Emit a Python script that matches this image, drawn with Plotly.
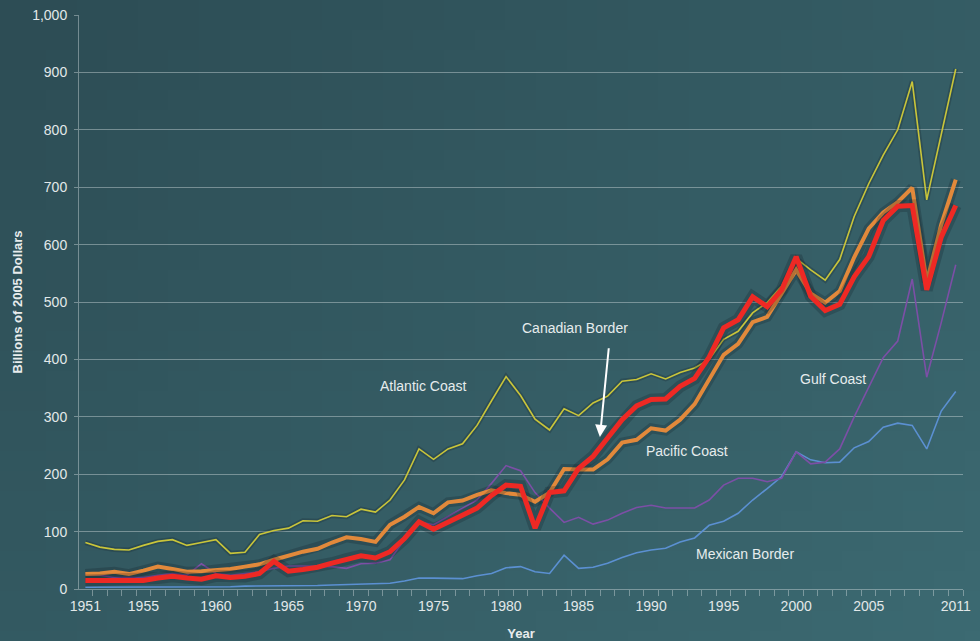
import base64, struct, zlib
import plotly.graph_objects as go

years = list(range(1951, 2012))

atlantic = [81, 73, 69, 68, 76, 83, 86, 76, 81, 86,
            62, 64, 95, 102, 106, 119, 118, 128, 126, 139,
            134, 155, 190, 244, 226, 244, 253, 285, 328, 370,
            337, 296, 277, 314, 302, 324, 336, 362, 365, 375,
            366, 377, 385, 400, 435, 449, 481, 499, 528, 576,
            556, 538, 574, 649, 706, 756, 800, 884, 678, 790, 906]

pacific = [26, 27, 30, 26, 32, 39, 35, 30, 31, 33,
           35, 39, 43, 51, 58, 65, 70, 81, 90, 87,
           82, 112, 126, 143, 132, 151, 154, 164, 172, 167,
           164, 152, 168, 209, 208, 208, 226, 255, 260, 280,
           276, 295, 322, 366, 408, 427, 465, 474, 514, 556,
           515, 499, 519, 578, 628, 656, 674, 699, 535, 635, 713]

canadian = [15, 15, 15, 15, 15, 19, 22, 19, 17, 23,
            20, 22, 27, 48, 31, 34, 38, 45, 52, 58,
            54, 65, 88, 117, 104, 117, 129, 141, 163, 181,
            179, 106, 168, 171, 210, 231, 263, 295, 319, 330,
            331, 353, 367, 404, 455, 469, 509, 492, 521, 579,
            510, 485, 496, 544, 579, 642, 667, 668, 521, 613, 668]

gulf = [26, 24, 20, 20, 20, 24, 27, 24, 44, 27,
        24, 27, 30, 36, 40, 40, 40, 39, 36, 44,
        45, 51, 86, 117, 112, 126, 141, 155, 184, 215,
        206, 168, 141, 116, 125, 113, 120, 132, 142, 146,
        141, 141, 141, 155, 181, 193, 193, 187, 193, 239,
        218, 221, 244, 300, 353, 403, 432, 540, 369, 464, 565]

mexican = [3, 3, 3, 3, 3, 4, 4, 4, 4, 4,
           4, 5, 5, 5, 5, 6, 6, 7, 8, 9,
           9, 10, 14, 19, 19, 19, 18, 23, 27, 37,
           39, 30, 27, 59, 36, 38, 45, 55, 63, 68,
           71, 82, 89, 111, 118, 132, 155, 175, 196, 239,
           225, 220, 221, 246, 257, 282, 289, 285, 244, 310, 344]

x_tick_vals = [1951, 1955, 1960, 1965, 1970, 1975, 1980, 1985, 1990, 1995, 2000, 2005, 2011]
y_tick_vals = [0, 100, 200, 300, 400, 500, 600, 700, 800, 900, 1000]
x_range = [1950.56, 2011.5]

labels = [
    ("Atlantic Coast", 1974.3, 354),
    ("Canadian Border", 1984.75, 454),
    ("Pacific Coast", 1992.5, 241),
    ("Gulf Coast", 2002.55, 366),
    ("Mexican Border", 1996.5, 61),
]


def gradient_png(w, h, c0, c1):
    rows = b""
    for j in range(h):
        row = b"\x00"
        for i in range(w):
            t = (i / (w - 1)) * 0.55 + (j / (h - 1)) * 0.45
            px = bytes(int(c0[k] + (c1[k] - c0[k]) * t) for k in range(3))
            row += px
        rows += row

    def chunk(tag, data):
        c = struct.pack(">I", len(data)) + tag + data
        return c + struct.pack(">I", zlib.crc32(tag + data) & 0xffffffff)

    png = b"\x89PNG\r\n\x1a\n"
    png += chunk(b"IHDR", struct.pack(">IIBBBBB", w, h, 8, 2, 0, 0, 0))
    png += chunk(b"IDAT", zlib.compress(rows))
    png += chunk(b"IEND", b"")
    return "data:image/png;base64," + base64.b64encode(png).decode()


bg = gradient_png(32, 32, (45, 77, 85), (60, 106, 114))

fig = go.Figure()

shadow = "rgba(12,25,30,0.22)"
series = [
    ("Mexican Border", mexican, "#5b90d2", 1.6, None),
    ("Gulf Coast", gulf, "#7c4fa6", 1.6, None),
    ("Atlantic Coast", atlantic, "#c9c53a", 1.6, 5),
    ("Pacific Coast", pacific, "#e2893b", 4, 10),
    ("Canadian Border", canadian, "#ee2924", 5, 12),
]
for name, vals, color, w, sw in series:
    if sw:
        fig.add_trace(go.Scatter(x=years, y=vals, mode="lines",
                                 line=dict(color=shadow, width=sw),
                                 hoverinfo="skip", showlegend=False))
    fig.add_trace(go.Scatter(x=years, y=vals, mode="lines", name=name,
                             line=dict(color=color, width=w), showlegend=False))

# invisible trace to carry the year-label axis
fig.add_trace(go.Scatter(x=[years[0]], y=[0], xaxis="x2", mode="markers",
                         marker=dict(opacity=0), hoverinfo="skip", showlegend=False))

font_fam = "Liberation Sans, Arial, sans-serif"
for text, xv, yv in labels:
    fig.add_annotation(x=xv, y=yv, text=text, showarrow=False,
                       font=dict(family=font_fam, size=14, color="#e6eced"))

fig.add_annotation(x=1986.47, y=265, ax=1987.09, ay=422, xref="x", yref="y",
                   axref="x", ayref="y", text="", showarrow=True,
                   arrowhead=2, arrowsize=1.2, arrowwidth=2, arrowcolor="#ffffff")

grid_c = "rgba(205,215,217,0.45)"
half_years = [y + 0.5 for y in years]
fig.update_layout(
    width=980, height=641,
    margin=dict(l=79, r=17, t=15, b=52),
    paper_bgcolor="#34595f",
    plot_bgcolor="rgba(0,0,0,0)",
    font=dict(family=font_fam, color="#dfe5e6"),
    images=[dict(source=bg, xref="paper", yref="paper",
                 x=-79 / 884, y=1 + 15 / 574, sizex=980 / 884, sizey=641 / 574,
                 sizing="stretch", layer="below", xanchor="left", yanchor="top")],
    xaxis=dict(range=x_range, tickvals=half_years, ticktext=[""] * len(half_years),
               automargin=False, ticks="outside", ticklen=6, tickcolor=grid_c,
               showgrid=False, zeroline=False, showline=True, linecolor=grid_c,
               linewidth=1,
               title=dict(text="<b>Year</b>", font=dict(size=13, color="#e8eced"),
                          standoff=32)),
    xaxis2=dict(range=x_range, overlaying="x", anchor="y", side="bottom",
                tickvals=x_tick_vals, ticktext=[str(v) for v in x_tick_vals],
                automargin=False, ticks="", ticklabelstandoff=7,
                showgrid=False, zeroline=False, showline=False,
                tickfont=dict(size=14, color="#e2e8e9")),
    yaxis=dict(range=[0, 1000], tickvals=y_tick_vals, automargin=False,
               ticktext=[f"{v:,}" for v in y_tick_vals],
               ticks="outside", ticklen=4, tickcolor=grid_c,
               ticklabelstandoff=4,
               showgrid=True, gridcolor=grid_c, gridwidth=1, zeroline=False,
               showline=True, linecolor=grid_c, linewidth=1,
               tickfont=dict(size=14, color="#e2e8e9"),
               title=dict(text="<b>Billions of 2005 Dollars</b>",
                          font=dict(size=13, color="#e8eced"), standoff=6)),
)

fig.write_html("out.html", config={"displayModeBar": False},
               post_script="document.body.style.margin='0';document.body.style.overflow='hidden';")
